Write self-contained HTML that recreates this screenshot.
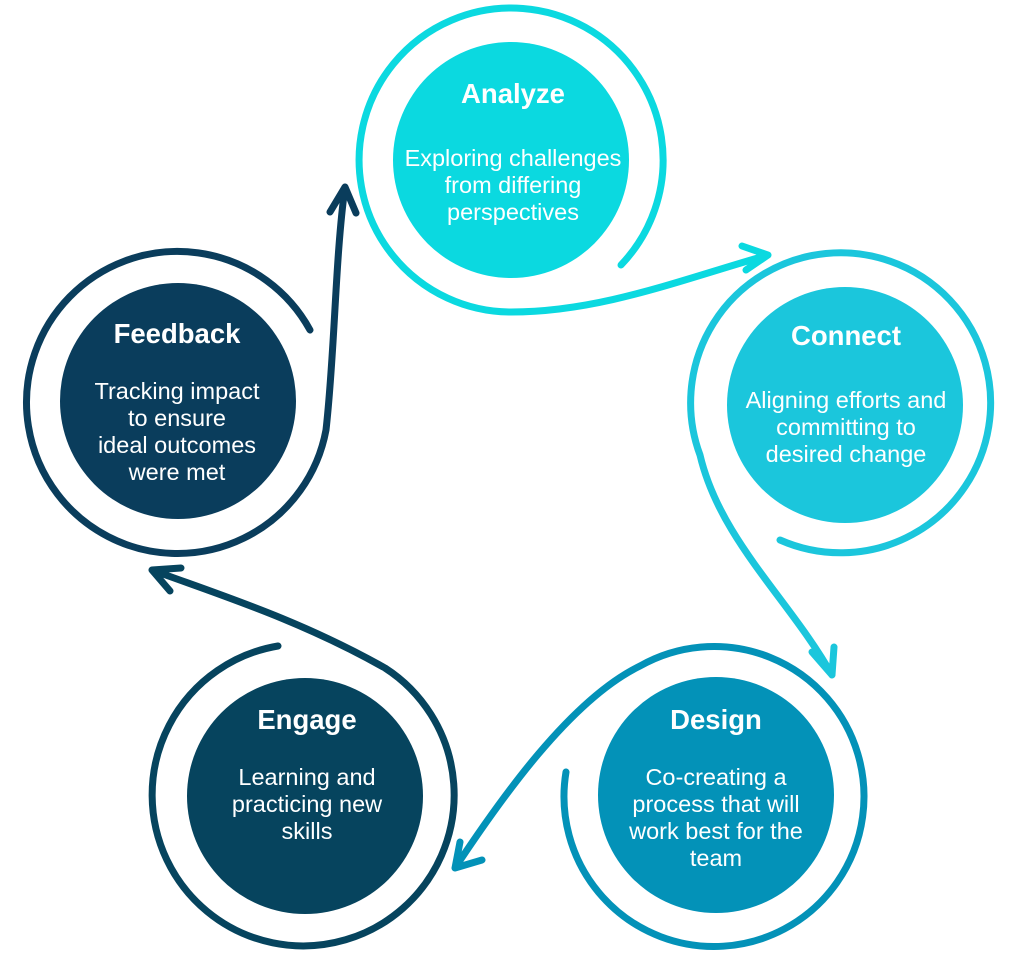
<!DOCTYPE html>
<html><head><meta charset="utf-8"><style>
html,body{margin:0;padding:0;background:#fff;}
svg{display:block;font-family:"Liberation Sans",sans-serif;}
.t{font-weight:bold;font-size:27.5px;fill:#fff;text-anchor:middle;}
.b{font-size:23.5px;fill:#fff;text-anchor:middle;}
path{fill:none;stroke-width:7;stroke-linecap:round;stroke-linejoin:round;}
</style></head><body>
<svg width="1024" height="957" viewBox="0 0 1024 957">
<!-- Analyze -->
<circle cx="511" cy="160" r="118" fill="#0bd9e0"/>
<path stroke="#0bd9e0" d="M621,265 A152,152 0 1 0 511,312 C600,312 680,280 768,255 M742,246 L768,255 L746,270"/>
<text class="t" x="513" y="103">Analyze</text>
<text class="b" x="513" y="166">Exploring challenges</text>
<text class="b" x="513" y="193">from differing</text>
<text class="b" x="513" y="220">perspectives</text>
<!-- Connect -->
<circle cx="845" cy="405" r="118" fill="#1bc6dc"/>
<path stroke="#1bc6dc" d="M780,540 A150,150 0 1 0 700,455 C720,540 790,600 832,675 M812,652 L832,675 L834,647"/>
<text class="t" x="846" y="345">Connect</text>
<text class="b" x="846" y="408">Aligning efforts and</text>
<text class="b" x="846" y="435">committing to</text>
<text class="b" x="846" y="462">desired change</text>
<!-- Design -->
<circle cx="716" cy="795" r="118" fill="#0392b8"/>
<path stroke="#0392b8" d="M566,772 A150,150 0 1 0 640,666 C570,700 500,800 455,868 M460,842 L455,868 L482,860"/>
<text class="t" x="716" y="729">Design</text>
<text class="b" x="716" y="785">Co-creating a</text>
<text class="b" x="716" y="812">process that will</text>
<text class="b" x="716" y="839">work best for the</text>
<text class="b" x="716" y="866">team</text>
<!-- Engage -->
<circle cx="305" cy="796" r="118" fill="#06445e"/>
<path stroke="#06445e" d="M278,646 A151,151 0 1 0 385,668 C300,620 220,595 152,570 M170,591 L152,570 L181,568"/>
<text class="t" x="307" y="729">Engage</text>
<text class="b" x="307" y="785">Learning and</text>
<text class="b" x="307" y="812">practicing new</text>
<text class="b" x="307" y="839">skills</text>
<!-- Feedback -->
<circle cx="178" cy="401" r="118" fill="#0a3d5c"/>
<path stroke="#0a3d5c" d="M310,330 A151,151 0 1 0 326,430 C335,350 335,260 345,187 M330,212 L345,187 L356,213"/>
<text class="t" x="177" y="343">Feedback</text>
<text class="b" x="177" y="399">Tracking impact</text>
<text class="b" x="177" y="426">to ensure</text>
<text class="b" x="177" y="453">ideal outcomes</text>
<text class="b" x="177" y="480">were met</text>
</svg>
</body></html>
